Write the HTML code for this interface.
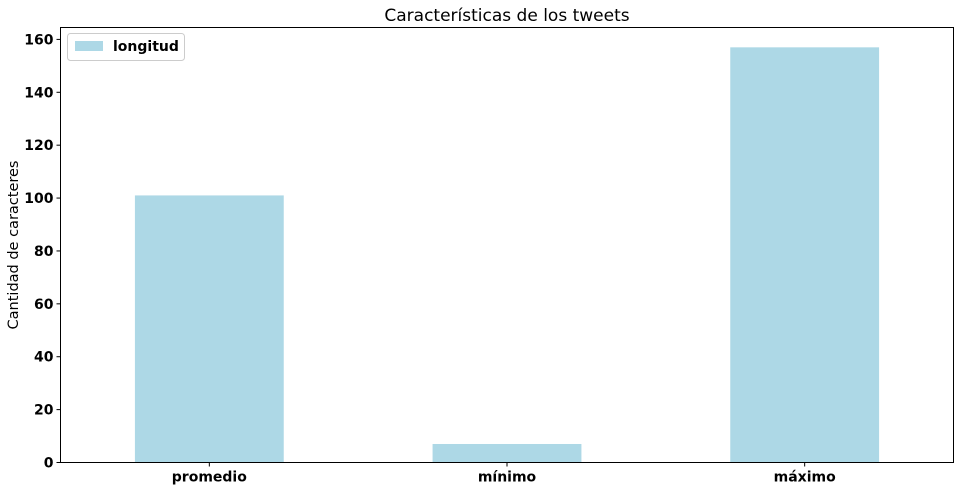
<!DOCTYPE html>
<html><head><meta charset="utf-8">
<style>
html,body{margin:0;padding:0;background:#fff;}
svg{display:block;font-family:"DejaVu Sans","Liberation Sans",sans-serif;}
</style></head>
<body>
<svg id="chart" width="961" height="490" xmlns="http://www.w3.org/2000/svg">
<text x="507" y="21" text-anchor="middle" font-size="17" fill="#000">Características de los tweets</text>
<text transform="translate(18,245) rotate(-90)" text-anchor="middle" font-size="14.5" fill="#000">Cantidad de caracteres</text>
<g id="bars"></g>
<g id="yticks"></g>
<g id="xticks"></g>
<rect x="60.5" y="27.5" width="893" height="435" fill="none" stroke="#000" stroke-width="1"/>
<g>
<rect x="67.5" y="33.5" width="117" height="27" rx="3" fill="#fff" stroke="#ccc"/>
<rect x="75" y="41" width="28" height="10" fill="#add8e6"/>
<text x="113" y="51" font-size="14" font-weight="bold">longitud</text>
</g>
</svg>
<script>
const categories = ["promedio","mínimo","máximo"];
const values = [101, 7, 157];
const yTicks = [0,20,40,60,80,100,120,140,160];

const NS="http://www.w3.org/2000/svg";
const pLeft=60.5, pRight=953.5, pTop=27.5, pBottom=462.5;
const yMax=164.5;
function yScale(v){return pBottom-(v/yMax)*(pBottom-pTop);}
const band=(pRight-pLeft)/categories.length;
function xc(i){return pLeft+band*(i+0.5);}
const bw=band*0.5;

const bars=document.getElementById('bars');
const xt=document.getElementById('xticks');
categories.forEach((c,i)=>{
  const r=document.createElementNS(NS,'rect');
  r.setAttribute('x',xc(i)-bw/2);
  r.setAttribute('y',yScale(values[i]));
  r.setAttribute('width',bw);
  r.setAttribute('height',pBottom-yScale(values[i]));
  r.setAttribute('fill','#add8e6');
  
  
  bars.appendChild(r);
  const t=document.createElementNS(NS,'text');
  t.setAttribute('x',xc(i));
  t.setAttribute('y',pBottom+19);
  t.setAttribute('text-anchor','middle');
  t.setAttribute('font-size','14');
  t.setAttribute('font-weight','bold');
  t.textContent=c;
  
  
  xt.appendChild(t);
  const l=document.createElementNS(NS,'line');
  l.setAttribute('x1',xc(i));l.setAttribute('x2',xc(i));
  l.setAttribute('y1',pBottom);l.setAttribute('y2',pBottom+4);
  l.setAttribute('stroke','#000');
  
  
  xt.appendChild(l);
});
const yt=document.getElementById('yticks');
yTicks.forEach(v=>{
  const l=document.createElementNS(NS,'line');
  l.setAttribute('x1',pLeft-4);l.setAttribute('x2',pLeft);
  l.setAttribute('y1',yScale(v));l.setAttribute('y2',yScale(v));
  l.setAttribute('stroke','#000');
  
  
  yt.appendChild(l);
  const t=document.createElementNS(NS,'text');
  t.setAttribute('x',pLeft-7);
  t.setAttribute('y',yScale(v)+5);
  t.setAttribute('text-anchor','end');
  t.setAttribute('font-size','14');
  t.setAttribute('font-weight','bold');
  t.textContent=v;
  
  
  yt.appendChild(t);
});
</script>
</body></html>
